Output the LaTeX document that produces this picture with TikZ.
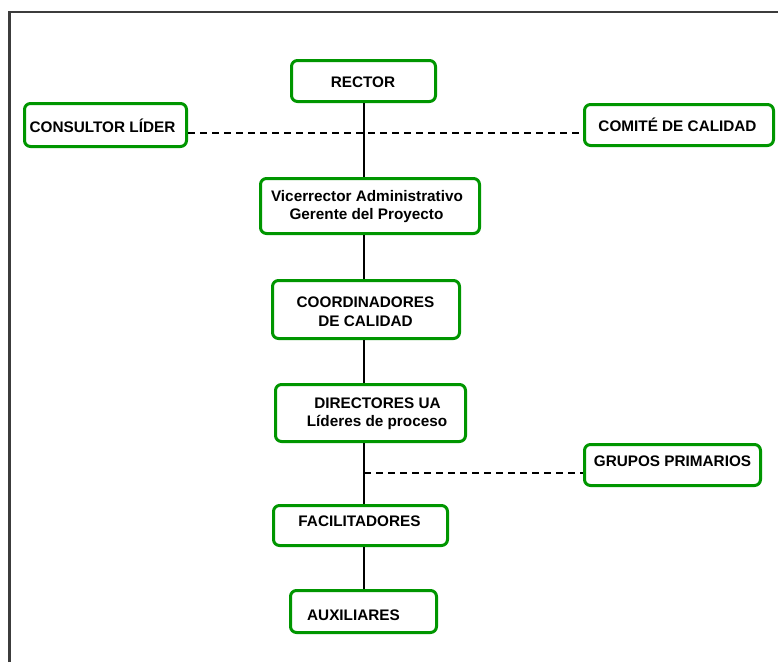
\documentclass[tikz,border=0pt]{standalone}
\usepackage{fontspec}
\setmainfont{Liberation Sans}
\definecolor{boxgreen}{RGB}{0,150,0}
\definecolor{framegray}{RGB}{60,60,60}
\begin{document}
\begin{tikzpicture}[x=1pt,y=-1pt,
  orgbox/.style={draw=boxgreen, line width=3pt, rounded corners=6pt, fill=white, inner sep=0pt},
  lbl/.style={anchor=base, inner sep=0pt, font=\fontsize{15.3}{18}\selectfont\bfseries},
  link/.style={line width=1.3pt, black},
  dashlink/.style={line width=1.3pt, black, dash pattern=on 7pt off 5pt}]
\useasboundingbox (0,0) rectangle (778,662);
\fill[white] (0,0) rectangle (778,662);
% outer frame (top and left edges)
\draw[framegray, line width=2.5pt] (9.7,662) -- (9.7,12) -- (778,12);

% boxes
\node[orgbox, minimum width=144pt, minimum height=41pt] (rector) at (363.5,81) {};
\node[orgbox, minimum width=162pt, minimum height=43pt] (consultor) at (105.5,125) {};
\node[orgbox, minimum width=189pt, minimum height=41pt] (comite) at (679,125) {};
\node[orgbox, minimum width=219pt, minimum height=55pt] (vice) at (370,206) {};
\node[orgbox, minimum width=187pt, minimum height=58pt] (coord) at (366,309.5) {};
\node[orgbox, minimum width=190pt, minimum height=57pt] (dir) at (370.5,413) {};
\node[orgbox, minimum width=176pt, minimum height=41pt] (grupos) at (672.5,465) {};
\node[orgbox, minimum width=174pt, minimum height=40pt] (facil) at (360.5,525.5) {};
\node[orgbox, minimum width=146pt, minimum height=42pt] (aux) at (363.5,611.5) {};

% labels
\node[lbl] (rector-t) at (363,87.5) {RECTOR};
\node[lbl] (consultor-t) at (102.5,132.5) {CONSULTOR LÍDER};
\node[lbl] (comite-t) at (677.5,131.5) {COMITÉ DE CALIDAD};
\node[lbl] (vice-t1) at (367,201.5) {Vicerrector Administrativo};
\node[lbl] (vice-t2) at (366.5,219.5) {Gerente del Proyecto};
\node[lbl] (coord-t1) at (365.5,307.5) {COORDINADORES};
\node[lbl] (coord-t2) at (365.5,326) {DE CALIDAD};
\node[lbl] (dir-t1) at (377.5,408.5) {DIRECTORES UA};
\node[lbl] (dir-t2) at (377,426.5) {Líderes de proceso};
\node[lbl] (grupos-t) at (672.5,466.5) {GRUPOS PRIMARIOS};
\node[lbl] (facil-t) at (359.5,526.5) {FACILITADORES};
\node[lbl] (aux-t) at (353.5,620.5) {AUXILIARES};

% connector guides
\coordinate (spine) at (364,0);
\coordinate (advise) at (0,133);
\coordinate (groups) at (0,473);

% solid hierarchy line
\draw[link] (rector.south -| spine) -- (vice.north -| spine);
\draw[link] (vice.south -| spine) -- (coord.north -| spine);
\draw[link] (coord.south -| spine) -- (dir.north -| spine);
\draw[link] (dir.south -| spine) -- (facil.north -| spine);
\draw[link] (facil.south -| spine) -- (aux.north -| spine);

% dashed advisory lines
\draw[dashlink] (consultor.east |- advise) -- (comite.west |- advise);
\draw[dashlink] (spine |- groups) -- (grupos.west |- groups);
\end{tikzpicture}
\end{document}
